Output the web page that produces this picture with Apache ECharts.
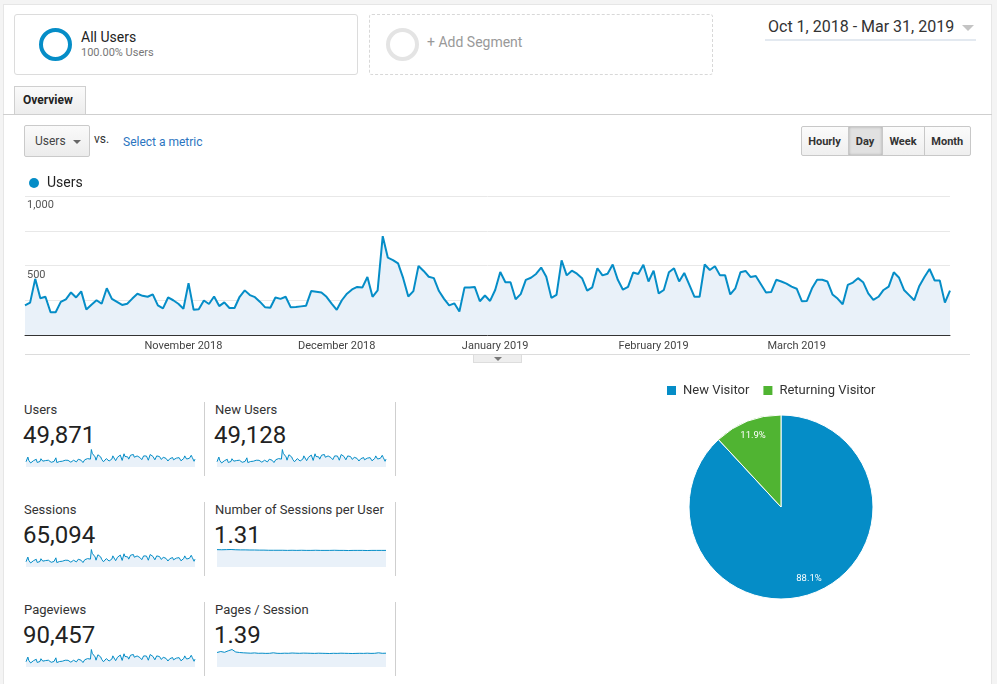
<!DOCTYPE html>
<html>
<head>
<meta charset="utf-8">
<script src="https://cdn.jsdelivr.net/npm/echarts@6/dist/echarts.min.js"></script>
<style>
html,body{margin:0;padding:0;width:997px;height:684px;overflow:hidden;background:#f4f4f4;font-family:Roboto,Arial,sans-serif;}
.a{position:absolute;box-sizing:border-box;white-space:nowrap;}
#panel{left:3px;top:4px;width:989px;height:690px;background:#fff;border:1px solid #e6e6e6;}
.seg{top:14px;width:344px;height:61px;border-radius:3px;}
.ring{width:33px;height:33px;border-radius:50%;top:28px;}
.tri{width:0;height:0;border-left:4px solid transparent;border-right:4px solid transparent;border-top:4px solid #666;}
.btn{top:126px;height:30px;font-size:11px;font-weight:bold;color:#333;text-align:center;line-height:29px;background:linear-gradient(#fbfbfb,#efefef);border:1px solid #c8c8c8;}
.klab{font-size:13px;color:#333;line-height:16px;}
.kval{font-size:24px;color:#222;line-height:28px;}
.ksep{width:1px;background:#cfcfcf;height:74px;}
#chart{left:0;top:0;width:997px;height:684px;z-index:2;}
</style>
</head>
<body>
<div class="a" id="panel"></div>

<div class="a seg" style="left:14px;border:1px solid #dcdcdc;background:#fff;"></div>
<div class="a ring" style="left:39px;border:4px solid #058dc7;"></div>
<div class="a" style="left:81px;top:29px;font-size:14px;line-height:16px;color:#222;">All Users</div>
<div class="a" style="left:81px;top:46px;font-size:11px;line-height:14px;color:#777;">100.00% Users</div>

<div class="a seg" style="left:369px;border:1px dashed #d8d8d8;background:#fff;"></div>
<div class="a ring" style="left:385.5px;border:4px solid #e4e4e4;"></div>
<div class="a" style="left:427px;top:34px;font-size:14px;line-height:16px;color:#999;">+ Add Segment</div>

<div class="a" style="left:768px;top:17px;font-size:16px;line-height:20px;color:#333;">Oct 1, 2018 - Mar 31, 2019</div>
<div class="a" style="left:962px;top:25px;width:0;height:0;border-left:6.5px solid transparent;border-right:6.5px solid transparent;border-top:6px solid #c4c4c4;"></div>
<div class="a" style="left:765px;top:39px;width:211px;height:2px;background:#e3e9f0;"></div>

<div class="a" style="left:14px;top:86px;width:72px;height:29px;border:1px solid #cfcfcf;border-bottom:none;background:linear-gradient(#fafafa,#ececec);font-size:12px;font-weight:bold;color:#222;line-height:27px;padding-left:8px;">Overview</div>
<div class="a" style="left:3px;top:114px;width:989px;height:1px;background:#cfcfcf;"></div>

<div class="a" style="left:24px;top:125px;width:66px;height:32px;border:1px solid #cacaca;border-radius:2px;background:linear-gradient(#fafafa,#ececec);font-size:12px;color:#444;line-height:31px;padding-left:10px;">Users</div>
<div class="a tri" style="left:72.5px;top:140px;"></div>
<div class="a" style="left:94px;top:131px;font-size:12px;line-height:16px;color:#333;">vs.</div>
<div class="a" style="left:123px;top:134px;font-size:12px;line-height:16px;color:#2b74c0;">Select a metric</div>

<div class="a btn" style="left:800.5px;width:48px;border-radius:2px 0 0 2px;">Hourly</div>
<div class="a btn" style="left:847.5px;width:35px;background:#e1e1e1;box-shadow:inset 0 0 3px #aaa;">Day</div>
<div class="a btn" style="left:881.5px;width:43px;">Week</div>
<div class="a btn" style="left:923.5px;width:47.5px;border-radius:0 2px 2px 0;">Month</div>

<div class="a" style="left:25px;top:354px;width:945px;height:1px;background:#dcdcdc;"></div>
<div class="a" style="left:473px;top:355px;width:49px;height:8px;background:#eee;border:1px solid #ddd;border-top:none;"></div>
<div class="a tri" style="left:493.5px;top:357px;border-top-color:#777;"></div>

<div id="kpis"></div>
<div class="a" id="chart"></div>

<script>
// ---- Data ----
const startDate = '2018-10-01';
const usersDaily = [
  213,233,404,265,275,164,164,238,257,306,270,314,184,218,250,225,336,260,238,216,225,262,297,282,275,292,213,191,270,250,225,
  189,373,181,186,248,223,277,208,235,194,194,275,321,287,272,238,199,196,270,260,275,199,201,206,211,316,311,306,275,226,
  181,250,297,328,346,341,417,275,321,711,556,539,515,409,277,316,497,461,419,409,316,260,213,228,169,341,341,346,243,284,245,
  324,453,380,380,257,294,397,412,439,485,419,267,289,537,429,463,441,409,319,343,480,429,441,507,397,326,346,449,439,505,
  385,463,299,324,451,480,385,446,360,275,275,507,468,495,429,429,292,336,451,461,417,424,365,306,309,397,385,370,348,333,
  243,245,336,397,397,385,292,262,221,360,377,409,380,299,252,275,324,348,451,414,324,287,250,353,417,475,392,392,233,319
];
const sessionsPerUserTrend = [1.36,1.35,1.36,1.37,1.35,1.34,1.34,1.33,1.33,1.32,1.32,1.31,1.31,1.31,1.31,1.30,1.31,1.30,1.31,1.30,1.30,1.31,1.30,1.30,1.30,1.31,1.30,1.30,1.29,1.30,1.30,1.30,1.29,1.30,1.30,1.30,1.30];
const pagesPerSessionTrend = [1.45,1.55,1.47,1.62,1.75,1.50,1.45,1.42,1.40,1.38,1.41,1.37,1.38,1.36,1.37,1.42,1.37,1.36,1.38,1.37,1.40,1.38,1.37,1.39,1.38,1.37,1.36,1.38,1.37,1.36,1.35,1.37,1.36,1.38,1.37,1.36,1.35,1.36,1.37,1.36,1.38,1.36,1.37,1.42,1.37,1.38];
const kpiLabels = ['Users','New Users','Sessions','Number of Sessions per User','Pageviews','Pages / Session'];
const kpiValues = ['49,871','49,128','65,094','1.31','90,457','1.39'];
const kpiTrends = [usersDaily, usersDaily, usersDaily, sessionsPerUserTrend, usersDaily, pagesPerSessionTrend];
const visitorTypes = ['New Visitor','Returning Visitor'];
const visitorShare = [88.1, 11.9];
const visitorColors = ['#058dc7','#50b432'];
const monthNames = ['January','February','March','April','May','June','July','August','September','October','November','December'];

// categories (calendar days)
const dates = [];
(function(){
  const d0 = new Date(startDate + 'T00:00:00Z');
  for (let i = 0; i < usersDaily.length; i++) {
    const d = new Date(d0.getTime() + i * 86400000);
    dates.push(d.toISOString().slice(0,10));
  }
})();

// ---- KPI chrome ----
const kpiCols = [24, 215];
const kpiRows = [402, 502, 602];
let html = '';
kpiLabels.forEach((lab, k) => {
  const c = k % 2, r = Math.floor(k / 2);
  html += '<div class="a klab" style="left:' + kpiCols[c] + 'px;top:' + kpiRows[r] + 'px;">' + lab + '</div>';
  html += '<div class="a kval" style="left:' + (kpiCols[c] - 1) + 'px;top:' + (kpiRows[r] + 19) + 'px;">' + kpiValues[k] + '</div>';
});
[204, 395].forEach(x => kpiRows.forEach(t => {
  html += '<div class="a ksep" style="left:' + x + 'px;top:' + t + 'px;"></div>';
}));
document.getElementById('kpis').innerHTML = html;

// ---- Chart ----
const FONT = 'Roboto, Arial, sans-serif';
const grids = [{left:25, top:196, width:925, height:139}];
const xAxes = [{
  type:'category', gridIndex:0, data:dates, boundaryGap:false,
  axisLine:{lineStyle:{color:'#333', width:1}},
  axisTick:{show:false},
  splitLine:{show:false},
  axisLabel:{
    interval:(i, v) => i > 0 && v.slice(8) === '01',
    formatter:v => monthNames[+v.slice(5,7) - 1] + ' ' + v.slice(0,4),
    color:'#444', fontSize:11, margin:6, fontFamily:FONT
  }
}];
const yAxes = [{
  type:'value', gridIndex:0, min:0, max:1000, interval:250,
  axisLine:{show:false}, axisTick:{show:false},
  splitLine:{lineStyle:{color:'#e8e8e8'}},
  axisLabel:{
    inside:true, verticalAlign:'top', margin:2, padding:[4,0,0,0],
    color:'#555', fontSize:11, fontFamily:FONT,
    formatter:v => (v > 0 && v % 500 === 0) ? v.toLocaleString('en-US') : ''
  }
}];
const series = [{
  type:'line', name:'Users', xAxisIndex:0, yAxisIndex:0, data:usersDaily,
  symbol:'none', lineStyle:{color:'#058dc7', width:2}, itemStyle:{color:'#058dc7'},
  areaStyle:{color:'#e9f1f9', opacity:1}, animation:false, emphasis:{disabled:true}
}];

const sparkLeft = [26, 217];
const sparkTop = [449.5, 549.5, 649.5];
kpiTrends.forEach((arr, k) => {
  const c = k % 2, r = Math.floor(k / 2);
  const gi = grids.length;
  grids.push({left:sparkLeft[c], top:sparkTop[r], width:169, height:17.5});
  xAxes.push({type:'value', gridIndex:gi, min:0, max:arr.length - 1, show:false});
  yAxes.push({type:'value', gridIndex:gi, min:0, max:'dataMax', show:false});
  series.push({
    type:'line', name:'spark' + k, xAxisIndex:gi, yAxisIndex:gi,
    data:arr.map((v, i) => [i, v]), symbol:'none', silent:true,
    lineStyle:{color:'#058dc7', width:1}, areaStyle:{color:'#e9f1f9', opacity:1},
    animation:false
  });
});

series.push({
  type:'pie', name:'Visitor Type', center:[781, 507], radius:[0, 92],
  startAngle:90, clockwise:true, animation:false,
  data:visitorTypes.map((n, i) => ({name:n, value:visitorShare[i], itemStyle:{color:visitorColors[i]}})),
  itemStyle:{borderColor:'#fff', borderWidth:1},
  label:{show:false}, labelLine:{show:false}, emphasis:{disabled:true}
});
series.push({
  type:'pie', name:'Visitor Type Labels', center:[781, 507], radius:[0, 147],
  startAngle:90, clockwise:true, animation:false, silent:true,
  data:visitorTypes.map((n, i) => ({name:n, value:visitorShare[i]})),
  itemStyle:{color:'rgba(0,0,0,0)', borderWidth:0},
  label:{show:true, position:'inside', color:'#fff', fontSize:9.5, fontFamily:FONT,
         formatter:p => p.value.toFixed(1) + '%'},
  labelLine:{show:false}, emphasis:{disabled:true}
});

const chart = echarts.init(document.getElementById('chart'), null, {renderer:'canvas'});
chart.setOption({
  animation:false,
  textStyle:{fontFamily:FONT},
  grid:grids, xAxis:xAxes, yAxis:yAxes,
  legend:[
    {data:['Users'], left:24, top:171, icon:'circle', itemWidth:10, itemHeight:10, selectedMode:false,
     textStyle:{fontSize:14, color:'#222', fontFamily:FONT, padding:[0,0,0,3]}},
    {data:visitorTypes, left:660, top:379, icon:'rect', itemWidth:11, itemHeight:11, itemGap:12,
     textStyle:{fontSize:13, color:'#333', fontFamily:FONT, padding:[0,0,0,1]}}
  ],
  series:series
});
</script>
</body>
</html>
